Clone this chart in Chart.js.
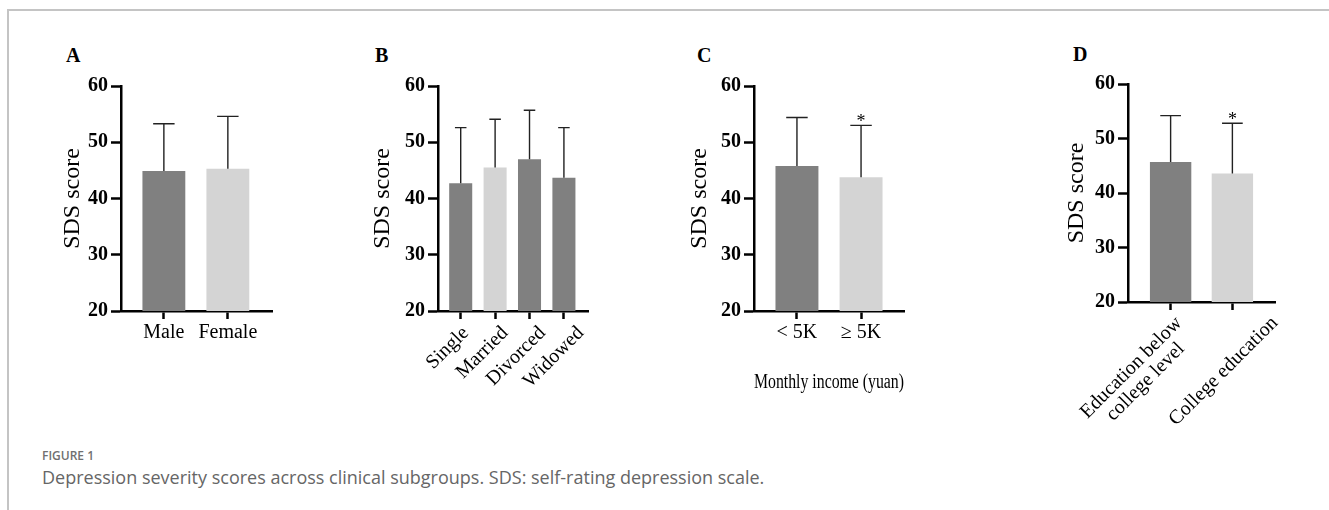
<!DOCTYPE html>
<html>
<head>
<meta charset="utf-8">
<script src="https://cdn.jsdelivr.net/npm/chart.js@4.4.1/dist/chart.umd.min.js"></script>
<style>
  body { margin: 0; width: 1329px; height: 510px; background: #fff; position: relative; overflow: hidden; }
  .frame { position: absolute; left: 7px; top: 9px; width: 1340px; height: 520px; border-top: 2px solid #c4c4c4; border-left: 2px solid #c4c4c4; }
  .letter { position: absolute; font: bold 20px "Liberation Serif", "Times New Roman", serif; line-height: 1; color: #000; }
  canvas { position: absolute; }
  .fig-label { position: absolute; left: 42px; top: 449px; font: 600 12px "Open Sans", sans-serif; line-height: 14px; color: #707070; }
  .fig-caption { position: absolute; left: 42px; top: 466px; font: 400 18px "Open Sans", sans-serif; line-height: 22px; color: #666; white-space: nowrap; }
</style>
</head>
<body>
<div class="frame"></div>
<div class="letter" style="left:66px; top:45px">A</div>
<div class="letter" style="left:375px; top:45px">B</div>
<div class="letter" style="left:697px; top:45px">C</div>
<div class="letter" style="left:1073px; top:44px">D</div>
<canvas id="chartA"></canvas>
<canvas id="chartB"></canvas>
<canvas id="chartC"></canvas>
<canvas id="chartD"></canvas>
<div class="fig-label">FIGURE 1</div>
<div class="fig-caption">Depression severity scores across clinical subgroups. SDS: self-rating depression scale.</div>
<script>
// A: sex
const sexLabels = ["Male", "Female"];
const sexMean = [44.9, 45.3];
const sexSD = [8.4, 9.3];
const sexSig = ["", ""];

// B: marital status
const maritalLabels = ["Single", "Married", "Divorced", "Widowed"];
const maritalMean = [42.7, 45.5, 47.0, 43.7];
const maritalSD = [9.9, 8.6, 8.7, 8.9];
const maritalSig = ["", "", "", ""];

// C: monthly income
const incomeLabels = ["< 5K", "≥ 5K"];
const incomeMean = [45.8, 43.8];
const incomeSD = [8.6, 9.2];
const incomeSig = ["", "*"];

// D: education
const eduLabels = [["Education below", "college level"], "College education"];
const eduMean = [45.7, 43.6];
const eduSD = [8.5, 9.2];
const eduSig = ["", "*"];

const yTicks = [20, 30, 40, 50, 60];
const yTitle = "SDS score";

const SERIF = '"Liberation Serif", "Times New Roman", serif';
const DARK = "#808080";
const LIGHT = "#d4d4d4";

// mean + SD whiskers and significance stars, drawn through the y scale
const errorBars = {
  id: "errorBars",
  afterDatasetsDraw(chart, args, opts) {
    const ctx = chart.ctx;
    const y = chart.scales.y;
    const meta = chart.getDatasetMeta(0);
    ctx.save();
    ctx.strokeStyle = "#222";
    ctx.lineWidth = 1.4;
    meta.data.forEach((bar, i) => {
      const top = y.getPixelForValue(opts.mean[i] + opts.sd[i]);
      const half = bar.width / 4;
      ctx.beginPath();
      ctx.moveTo(bar.x, bar.y);
      ctx.lineTo(bar.x, top);
      ctx.moveTo(bar.x - half, top);
      ctx.lineTo(bar.x + half, top);
      ctx.stroke();
      if (opts.sig[i]) {
        ctx.fillStyle = "#000";
        ctx.font = "18px " + SERIF;
        ctx.textAlign = "center";
        ctx.textBaseline = "alphabetic";
        ctx.fillText(opts.sig[i], bar.x, top + 2);
      }
    });
    ctx.restore();
  },
};

// 45° category labels, lines of a label centred on each other
const slantLabels = {
  id: "slantLabels",
  afterDraw(chart, args, opts) {
    if (!opts.labels) return;
    const ctx = chart.ctx;
    const x = chart.scales.x;
    ctx.save();
    ctx.fillStyle = "#000";
    ctx.font = "20px " + SERIF;
    ctx.textAlign = "center";
    ctx.textBaseline = "middle";
    opts.labels.forEach((lab, i) => {
      const lines = [].concat(lab);
      const w = Math.max(...lines.map((l) => ctx.measureText(l).width));
      ctx.save();
      ctx.translate(x.getPixelForValue(i + 1) + opts.shift[i], x.top + opts.drop);
      ctx.rotate(-Math.PI / 4);
      lines.forEach((l, j) => ctx.fillText(l, -w / 2, j * 20));
      ctx.restore();
    });
    ctx.restore();
  },
};

function makePanel(id, p) {
  const canvas = document.getElementById(id);
  canvas.width = p.w;
  canvas.height = p.h;
  canvas.style.left = p.left + "px";
  canvas.style.top = p.top + "px";
  const slanted = !!p.shift;

  return new Chart(canvas, {
    type: "bar",
    data: {
      datasets: [
        {
          data: p.mean.map((v, i) => ({ x: i + 1, y: v })),
          backgroundColor: p.colors,
          barPercentage: 1,
          categoryPercentage: 0.67,
        },
      ],
    },
    options: {
      responsive: false,
      animation: false,
      layout: { padding: { top: 20, right: 20, left: 0, bottom: 0 } },
      plugins: {
        legend: { display: false },
        tooltip: { enabled: false },
        errorBars: { mean: p.mean, sd: p.sd, sig: p.sig },
        slantLabels: slanted ? { labels: p.labels, shift: p.shift, drop: p.drop } : {},
      },
      scales: {
        x: {
          type: "linear",
          min: p.xMin,
          max: p.xMax,
          offset: false,
          afterBuildTicks: (ax) => {
            ax.ticks = p.labels.map((l, i) => ({ value: i + 1 }));
          },
          grid: { offset: false, drawOnChartArea: false, tickLength: 8, tickWidth: 2.5, tickColor: "#000" },
          border: { display: true, color: "#000", width: 2.5 },
          ticks: {
            display: !slanted,
            autoSkip: false,
            maxRotation: 0,
            padding: 2,
            color: "#000",
            font: { family: SERIF, size: 20 },
            callback: (v) => p.labels[v - 1],
          },
          title: {
            display: !!p.xTitle,
            text: p.xTitle || "",
            color: "#000",
            padding: 0,
            font: { family: SERIF, size: 20, lineHeight: 1 },
          },
          afterFit: (ax) => {
            ax.height = p.xh;
            ax.paddingLeft = 0;
            ax.paddingRight = 0;
            ax.paddingTop = 0;
            ax.paddingBottom = 0;
          },
        },
        y: {
          min: yTicks[0],
          max: yTicks[yTicks.length - 1],
          afterBuildTicks: (ax) => {
            ax.ticks = yTicks.map((v) => ({ value: v }));
          },
          grid: { drawOnChartArea: false, tickLength: 10, tickWidth: 2.5, tickColor: "#000" },
          border: { display: true, color: "#000", width: 2.5 },
          ticks: { color: "#000", padding: 3, font: { family: SERIF, size: 20, weight: "bold" } },
          title: {
            display: true,
            text: yTitle,
            color: "#000",
            padding: 0,
            font: { family: SERIF, size: 24, lineHeight: 1 },
          },
          afterFit: (ax) => {
            ax.width = p.yw;
            ax.paddingTop = 0;
            ax.paddingBottom = 0;
          },
        },
      },
    },
    plugins: [errorBars, slantLabels],
  });
}

makePanel("chartA", {
  labels: sexLabels, mean: sexMean, sd: sexSD, sig: sexSig,
  colors: [DARK, LIGHT], xMin: 0.33, xMax: 2.69,
  left: 61, top: 66, w: 231, h: 295, yw: 60, xh: 50,
});

makePanel("chartB", {
  labels: maritalLabels, mean: maritalMean, sd: maritalSD, sig: maritalSig,
  colors: [DARK, LIGHT, DARK, DARK], xMin: 0.34, xMax: 4.70,
  shift: [5, 10, 13, 17], drop: 19,
  left: 371, top: 66, w: 237, h: 335, yw: 67, xh: 90,
});

makePanel("chartC", {
  labels: incomeLabels, mean: incomeMean, sd: incomeSD, sig: incomeSig,
  colors: [DARK, LIGHT], xMin: 0.33, xMax: 2.67,
  xTitle: "Monthly income (yuan)",
  left: 688, top: 66, w: 236, h: 327, yw: 66, xh: 82,
});

makePanel("chartD", {
  labels: eduLabels, mean: eduMean, sd: eduSD, sig: eduSig,
  colors: [DARK, LIGHT], xMin: 0.31, xMax: 2.69,
  shift: [8.5, 42.5], drop: 18,
  left: 1065, top: 64, w: 230, h: 368, yw: 63, xh: 130,
});
</script>
</body>
</html>
